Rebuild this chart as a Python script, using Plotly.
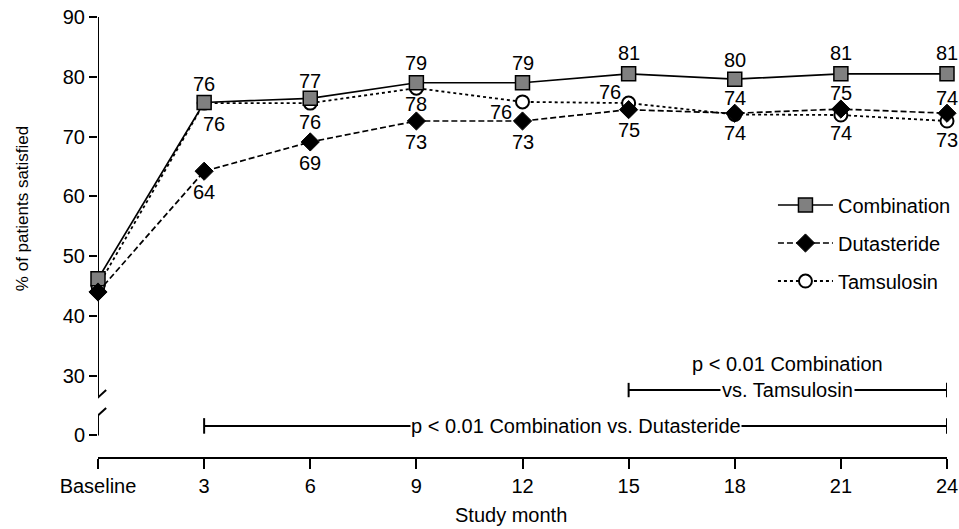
import plotly.graph_objects as go

# ---- data ----
months = [0, 3, 6, 9, 12, 15, 18, 21, 24]
tick_labels = ["Baseline", "3", "6", "9", "12", "15", "18", "21", "24"]

combination = [46.2, 75.7, 76.4, 79.0, 79.0, 80.5, 79.6, 80.5, 80.5]
dutasteride = [44.0, 64.2, 69.1, 72.6, 72.6, 74.5, 73.9, 74.6, 73.9]
tamsulosin = [45.0, 75.6, 75.6, 78.1, 75.8, 75.6, 73.7, 73.6, 72.6]

combination_labels = [None, 76, 77, 79, 79, 81, 80, 81, 81]
dutasteride_labels = [None, 64, 69, 73, 73, 75, 74, 75, 74]
tamsulosin_labels = [None, 76, 76, 78, 76, 76, 74, 74, 73]

y_tick_vals = [20, 30, 40, 50, 60, 70, 80, 90]   # 20 is the broken-axis position of "0"
y_tick_text = ["0", "30", "40", "50", "60", "70", "80", "90"]

# ---- label offsets (pixels) ----
comb_off = [(0, 0), (0, 18), (0, 17), (0, 20), (0, 20), (0, 21), (0, 19), (0, 21), (0, 21)]
dut_off = [(0, 0), (0, -21), (0, -21), (0, -21), (0, -21), (0, -20), (0, 15), (0, 16), (0, 15)]
tam_off = [(0, 0), (10, -21), (0, -19), (0, -16), (-22, -10), (-19, 11), (0, -19), (0, -18), (0, -19)]

FONT = "Liberation Sans, Arial, sans-serif"
FS = 20

fig = go.Figure()

fig.add_trace(go.Scatter(
    x=months, y=tamsulosin, name="Tamsulosin", mode="lines+markers",
    line=dict(color="black", width=1.8, dash="dot"),
    marker=dict(symbol="circle", size=13, color="white", line=dict(color="black", width=2)),
    cliponaxis=False, legendrank=3, legendgroup="t"))
fig.add_trace(go.Scatter(
    x=months, y=combination, name="Combination", mode="lines+markers",
    line=dict(color="black", width=1.7),
    marker=dict(symbol="square", size=14, color="#808080", line=dict(color="black", width=1.5)),
    cliponaxis=False, legendrank=1, legendgroup="c"))
fig.add_trace(go.Scatter(
    x=months, y=dutasteride, name="Dutasteride", mode="lines+markers",
    line=dict(color="black", width=1.7, dash="6px,3px"),
    marker=dict(symbol="diamond", size=14, color="black", line=dict(color="black", width=1)),
    cliponaxis=False, legendrank=2, legendgroup="d"))

annotations = []
for vals, labs, offs in [(combination, combination_labels, comb_off),
                         (dutasteride, dutasteride_labels, dut_off),
                         (tamsulosin, tamsulosin_labels, tam_off)]:
    for m, v, lab, (dx, dy) in zip(months, vals, labs, offs):
        if lab is None:
            continue
        annotations.append(dict(x=m, y=v, text=str(lab), showarrow=False,
                                xshift=dx, yshift=dy,
                                font=dict(family=FONT, size=FS, color="black")))

# significance annotations
annotations.append(dict(x=13.5, y=21.6, text="p < 0.01 Combination vs. Dutasteride",
                        showarrow=False, bgcolor="white", borderpad=0,
                        font=dict(family=FONT, size=FS, color="black")))
annotations.append(dict(x=19.5, y=27.6, text="vs. Tamsulosin",
                        showarrow=False, bgcolor="white", borderpad=1,
                        font=dict(family=FONT, size=FS, color="black")))
annotations.append(dict(x=19.5, y=32.0, text="p < 0.01 Combination",
                        showarrow=False,
                        font=dict(family=FONT, size=FS, color="black")))

# axis titles
annotations.append(dict(xref="paper", yref="paper", x=0.486, y=-0.132, text="Study month",
                        xanchor="center", yanchor="middle",
                        showarrow=False, font=dict(family=FONT, size=FS, color="black")))
annotations.append(dict(xref="paper", yref="paper", x=-0.088, y=0.564,
                        xanchor="center", yanchor="middle",
                        text="% of patients satisfied", textangle=-90,
                        showarrow=False, font=dict(family=FONT, size=17, color="black")))

line_style = dict(color="black", width=2)
shapes = [
    # y axis with break
    dict(type="line", xref="x", yref="y", x0=0, x1=0, y0=90, y1=26.5, line=line_style, layer="below"),
    dict(type="line", xref="x", yref="y", x0=0, x1=0, y0=23.4, y1=20, line=line_style, layer="below"),
    dict(type="line", xref="x", yref="y", x0=-0.23, x1=0.23, y0=25.1, y1=27.6, line=line_style, layer="below"),
    dict(type="line", xref="x", yref="y", x0=-0.23, x1=0.23, y0=22.1, y1=24.6, line=line_style, layer="below"),
    # combination vs dutasteride bar
    dict(type="line", xref="x", yref="y", x0=3, x1=24, y0=21.6, y1=21.6, line=line_style, layer="below"),
    dict(type="line", xref="x", yref="y", x0=3, x1=3, y0=20.3, y1=22.9, line=line_style, layer="below"),
    dict(type="line", xref="x", yref="y", x0=24, x1=24, y0=20.3, y1=22.9, line=line_style, layer="below"),
    # combination vs tamsulosin bar
    dict(type="line", xref="x", yref="y", x0=15, x1=24, y0=27.6, y1=27.6, line=line_style, layer="below"),
    dict(type="line", xref="x", yref="y", x0=15, x1=15, y0=26.4, y1=28.8, line=line_style, layer="below"),
    dict(type="line", xref="x", yref="y", x0=24, x1=24, y0=26.4, y1=28.8, line=line_style, layer="below"),
]

fig.update_layout(
    width=959, height=529,
    margin=dict(l=98, r=12, t=17, b=72, autoexpand=False),
    paper_bgcolor="white", plot_bgcolor="white",
    font=dict(family=FONT, size=FS, color="black"),
    showlegend=True,
    legend=dict(x=0.795, y=0.617, xanchor="left", yanchor="top",
                bgcolor="rgba(0,0,0,0)", itemwidth=55, tracegroupgap=9,
                font=dict(family=FONT, size=FS, color="black")),
    annotations=annotations,
    shapes=shapes,
    xaxis=dict(range=[0, 24], tickvals=months, ticktext=tick_labels,
               showline=True, linecolor="black", linewidth=2,
               ticks="outside", ticklen=10, tickwidth=2, tickcolor="black",
               showgrid=False, zeroline=False, automargin=False,
               tickfont=dict(family=FONT, size=FS, color="black")),
    yaxis=dict(range=[16.4, 90], tickvals=y_tick_vals, ticktext=y_tick_text,
               showline=False, ticks="outside", ticklen=8, tickwidth=2, tickcolor="black",
               showgrid=False, zeroline=False, automargin=False,
               tickfont=dict(family=FONT, size=FS, color="black")),
)

fig.write_html("out.html", config={"displayModeBar": False},
               post_script="document.body.style.margin='0';document.body.style.overflow='hidden';")
